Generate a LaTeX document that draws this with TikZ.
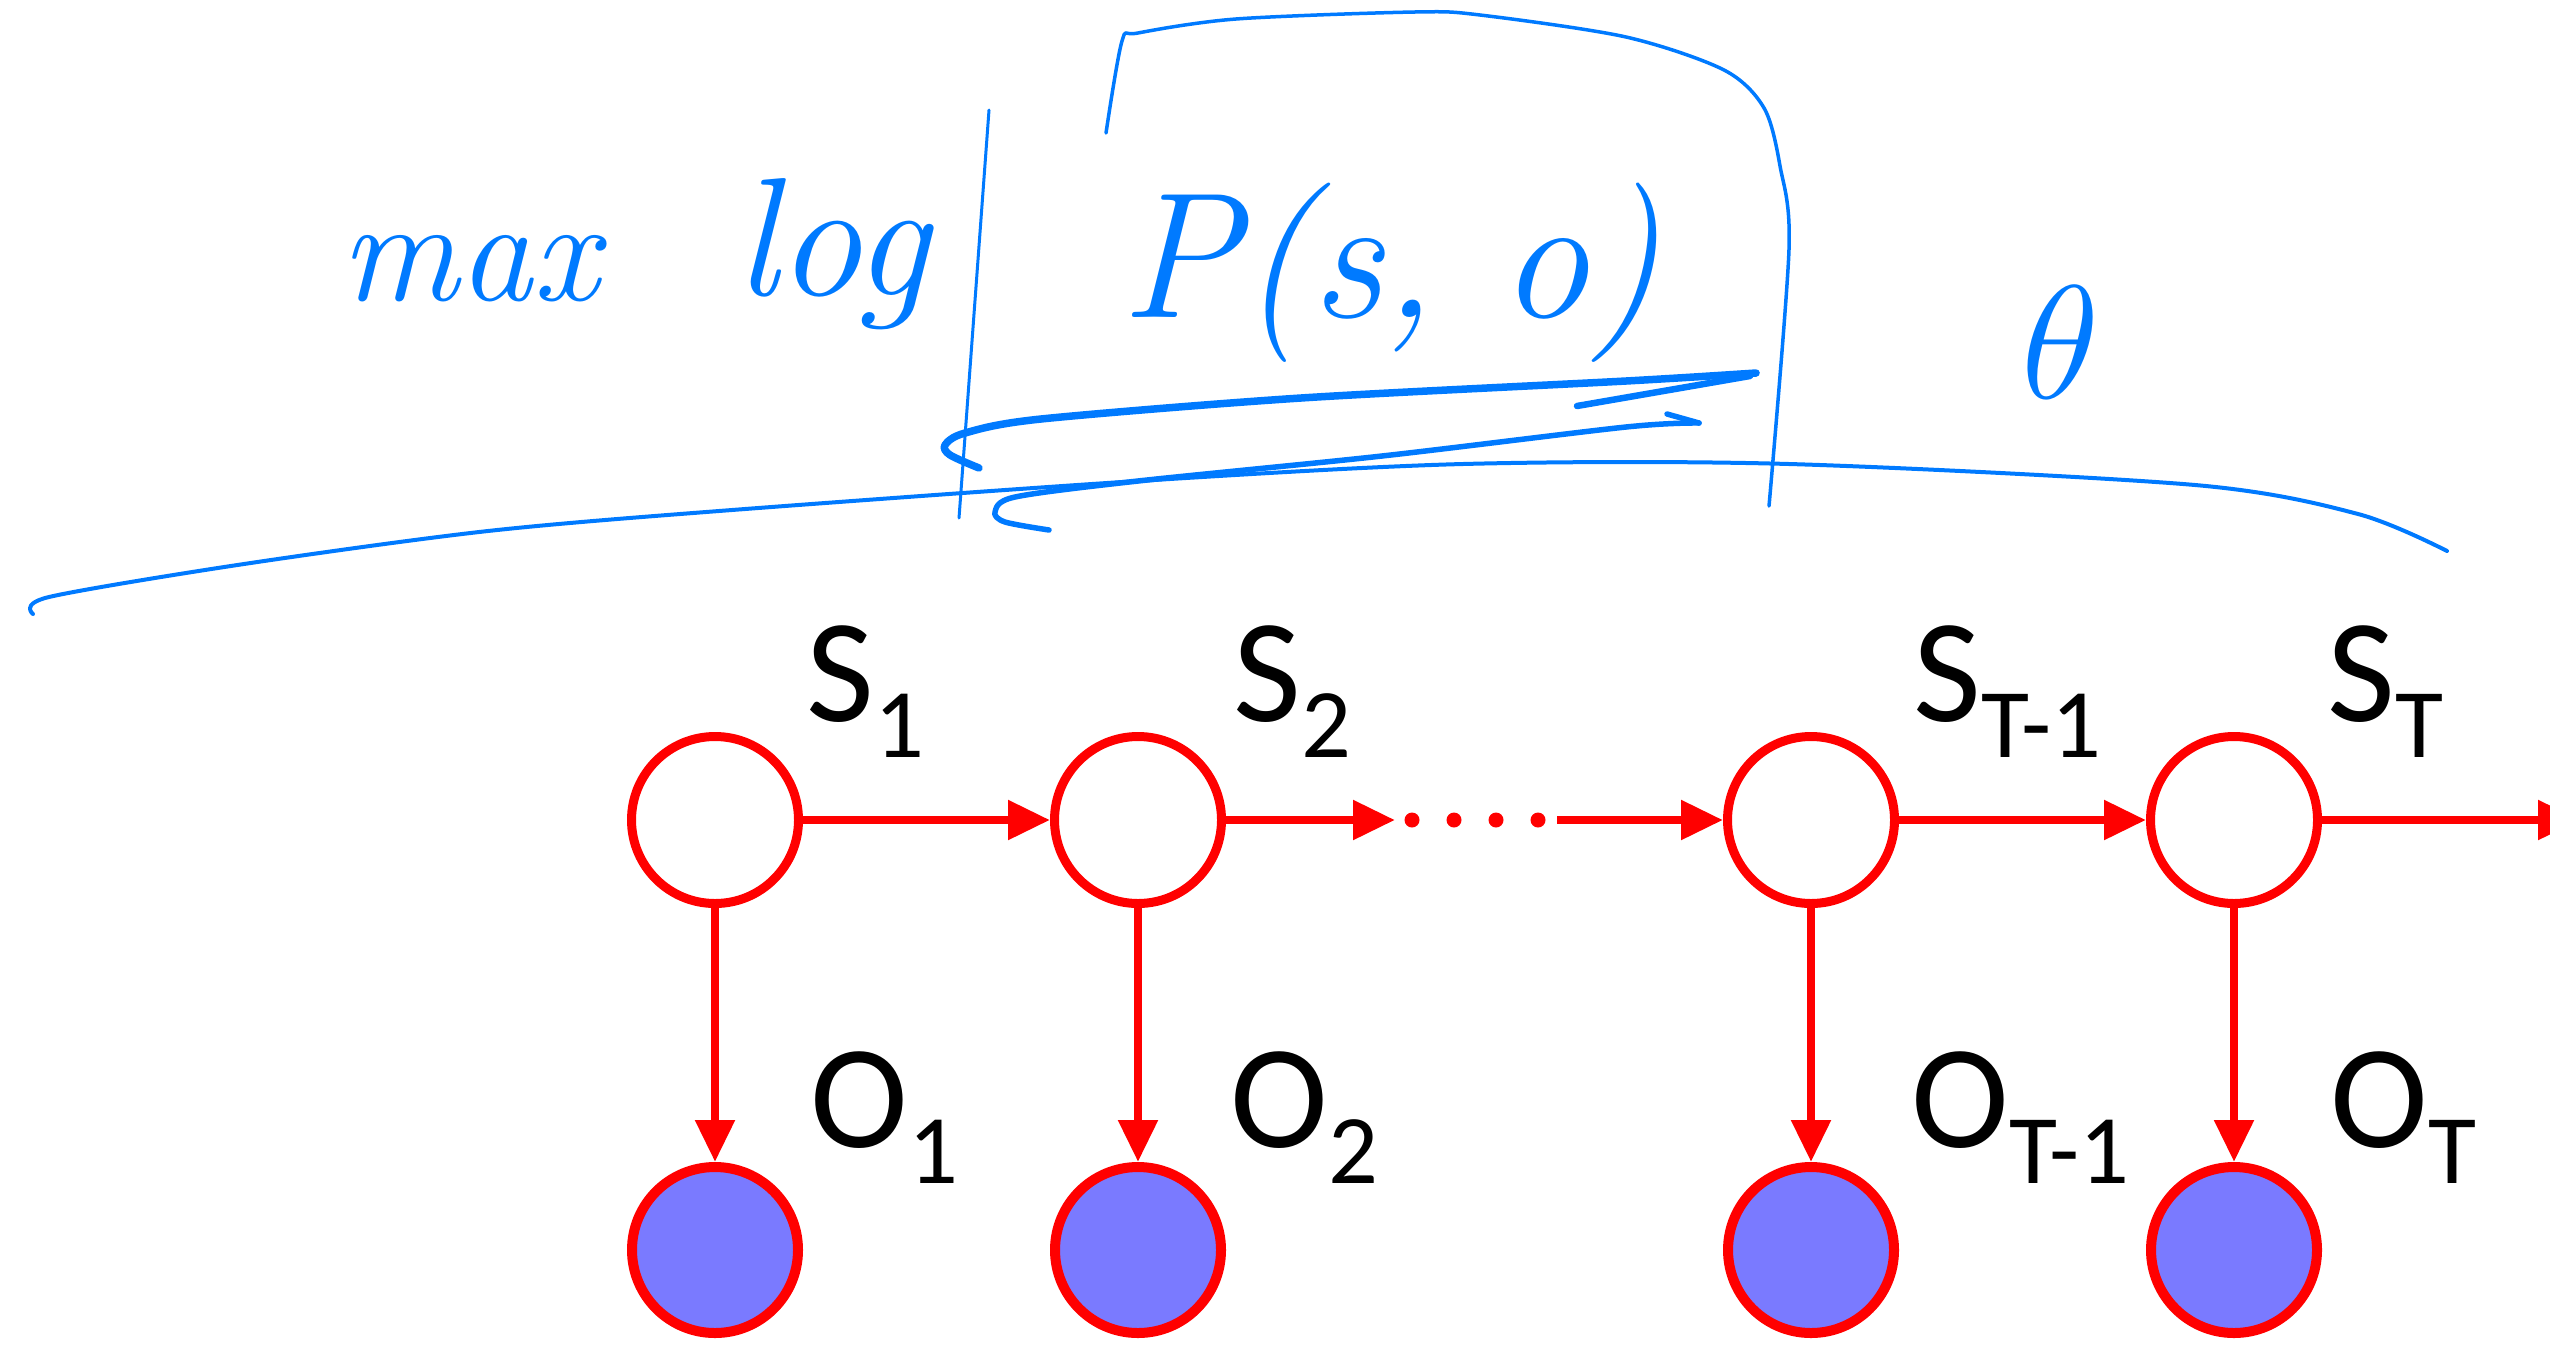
\documentclass[tikz,border=0pt]{standalone}
\usepackage{fix-cm}
\usepackage{fontspec}
\usetikzlibrary{arrows.meta,calc}

\newfontfamily\labelfont{Carlito}
\definecolor{hmmred}{RGB}{255,0,0}
\definecolor{obsblue}{RGB}{122,122,255}
\definecolor{inkblue}{RGB}{0,122,255}

% variable name with a lowered index
\newcommand{\hmmvar}[2]{#1\raisebox{-0.36cm}{\fontsize{28}{28}\selectfont #2}}

\tikzset{
  hidden/.style={circle, draw=hmmred, fill=white, line width=0.09cm, minimum size=1.67cm, inner sep=0pt},
  observed/.style={circle, draw=hmmred, fill=obsblue, line width=0.10cm, minimum size=1.66cm, inner sep=0pt},
  trans/.style={hmmred, line width=0.085cm, -{Triangle[length=0.42cm,width=0.38cm]}},
  varname/.style={font=\labelfont\fontsize{42}{42}\selectfont, anchor=base west, inner sep=0pt},
  ink/.style={draw=inkblue, line width=0.045cm, line cap=round, line join=round},
  inktext/.style={text=inkblue, inner sep=0pt, anchor=base west},
}

\begin{document}
\begin{tikzpicture}[x=1cm,y=-1cm]
    \useasboundingbox (0,0) rectangle (25.5,13.45);
    \fill[white] (0,0) rectangle (25.5,13.45);

    % Handwritten objective
    \node[inktext, font=\itshape\fontsize{42}{42}\selectfont] (maxw) at (3.40,3.00) {max};
    \node[inktext, font=\itshape\fontsize{48}{48}\selectfont] (logw) at (7.35,2.95) {log};
    \node[inktext, font=\itshape\fontsize{51}{51}\selectfont] (joint) at (11.20,3.17) {P(s, o)};
    \node[inktext, anchor=base, font=\fontsize{46}{46}\selectfont] (param) at (20.61,3.98) {$\theta$};

    % Box round the likelihood
    \draw[ink, line width=0.035cm] plot[smooth] coordinates {(11.06,1.33) (11.22,0.41) (11.38,0.33) (12.36,0.19) (14.15,0.12) (14.80,0.15) (16.26,0.37) (17.24,0.70) (17.64,1.08) (17.80,1.66) (17.89,2.49) (17.69,5.06)};
    \draw[ink, line width=0.03cm] (9.89,1.10) -- (9.59,5.18);

    % Underline arrows
    \draw[ink, line width=0.075cm] plot[smooth] coordinates {(9.79,4.68) (9.50,4.55) (9.45,4.45) (9.65,4.33) (10.41,4.19) (13.01,3.98) (16.26,3.81) (17.56,3.73)};
    \draw[ink, line width=0.065cm] (15.77,4.06) -- (17.50,3.76);
    \draw[ink, line width=0.055cm] plot[smooth] coordinates {(10.49,5.30) (10.05,5.22) (9.95,5.12) (10.15,4.97) (11.38,4.81) (13.82,4.56) (16.26,4.27) (16.99,4.23)};
    \draw[ink, line width=0.055cm] (16.67,4.14) -- (16.99,4.23);

    % Long stroke above the chain
    \draw[ink, line width=0.04cm] plot[smooth] coordinates {(0.33,6.14) (0.49,5.97) (2.44,5.64) (4.88,5.31) (7.32,5.10) (11.38,4.81) (14.63,4.64) (17.89,4.64) (21.95,4.85) (23.58,5.14) (24.47,5.51)};

    % Hidden states
    \node[hidden] (s1) at (7.15,8.20) {};
    \node[hidden] (s2) at (11.38,8.20) {};
    \node[hidden] (sT1) at (18.11,8.20) {};
    \node[hidden] (sT) at (22.34,8.20) {};

    % Observations
    \node[observed] (o1) at (7.15,12.50) {};
    \node[observed] (o2) at (11.38,12.50) {};
    \node[observed] (oT1) at (18.11,12.50) {};
    \node[observed] (oT) at (22.34,12.50) {};

    \coordinate (gapL) at (13.95,8.20);
    \coordinate (gapR) at (15.57,8.20);
    \coordinate (next) at (25.80,8.20);

    % Transitions
    \draw[trans] (s1) -- (s2);
    \draw[trans] (s2) -- (gapL);
    \draw[hmmred, line width=0.15cm, line cap=round, dash pattern=on 0pt off 0.42cm,
          shorten <=0.17cm, shorten >=0.17cm] (gapL) -- (gapR);
    \draw[trans] (gapR) -- (sT1);
    \draw[trans] (sT1) -- (sT);
    \draw[trans] (sT) -- (next);

    % Emissions
    \foreach \s/\o in {s1/o1, s2/o2, sT1/oT1, sT/oT}
        \draw[trans] (\s) -- (\o);

    % Labels
    \node[varname] (ls1) at ($(s1)+(0.91,-0.99)$) {\hmmvar{S}{1}};
    \node[varname] (ls2) at ($(s2)+(0.95,-0.99)$) {\hmmvar{S}{2}};
    \node[varname] (lsT1) at ($(sT1)+(1.02,-0.99)$) {\hmmvar{S}{T-1}};
    \node[varname] (lsT) at ($(sT)+(0.93,-0.99)$) {\hmmvar{S}{T}};
    \node[varname] (lo1) at ($(o1)+(0.95,-1.03)$) {\hmmvar{O}{1}};
    \node[varname] (lo2) at ($(o2)+(0.92,-1.03)$) {\hmmvar{O}{2}};
    \node[varname] (loT1) at ($(oT1)+(1.00,-1.03)$) {\hmmvar{O}{T-1}};
    \node[varname] (loT) at ($(oT)+(0.96,-1.03)$) {\hmmvar{O}{T}};
\end{tikzpicture}
\end{document}
